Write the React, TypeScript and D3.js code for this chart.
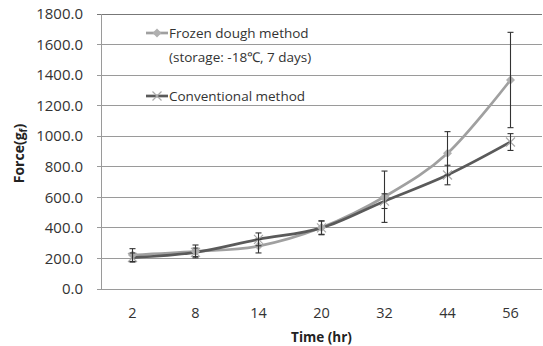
import React, { useEffect, useRef } from 'react'
import * as d3 from 'd3'

// data
const times = ['2', '8', '14', '20', '32', '44', '56']
const frozen = [222, 246, 281, 402, 604, 888, 1368]
const frozenErr = [42, 42, 45, 44, 168, 142, 312]
const conventional = [206, 240, 325, 400, 575, 746, 962]
const conventionalErr = [30, 28, 42, 45, 48, 64, 55]
const yTicks = [0, 200, 400, 600, 800, 1000, 1200, 1400, 1600, 1800]

const FONT = '"Open Sans", "Liberation Sans", sans-serif'

export default function App() {
    const ref = useRef<SVGSVGElement>(null)

    useEffect(() => {
        const svg = d3.select(ref.current)
        svg.selectAll('*').remove()

        const margin = { top: 14, right: 1, bottom: 57, left: 101 }
        const W = 543, H = 346
        const width = W - margin.left - margin.right
        const height = H - margin.top - margin.bottom

        const x = d3.scaleBand().domain(times).range([0, width])
        const y = d3.scaleLinear().domain([0, 1800]).range([height, 0])
        const cx = (i: number) => (x(times[i]) as number) + x.bandwidth() / 2

        const g = svg.append('g').attr('transform', `translate(${margin.left},${margin.top})`)

        // gridlines
        g.selectAll('.grid').data(yTicks).enter().append('line')
            .attr('x1', -4).attr('x2', width)
            .attr('y1', d => y(d)).attr('y2', d => y(d))
            .attr('stroke', d => d === 1800 ? '#777' : '#9a9a9a')
            .attr('stroke-width', 1)
            .attr('shape-rendering', 'crispEdges')

        // left axis line
        g.append('line')
            .attr('x1', 0).attr('x2', 0).attr('y1', 0).attr('y2', height)
            .attr('stroke', '#9a9a9a').attr('shape-rendering', 'crispEdges')

        // y tick labels
        g.selectAll('.ylab').data(yTicks).enter().append('text')
            .attr('x', -18).attr('y', d => y(d)).attr('dy', '0.35em')
            .attr('text-anchor', 'end')
            .style('font-family', FONT).style('font-size', '15px').attr('fill', '#333')
            .text(d => d.toFixed(1))

        // x tick labels
        g.selectAll('.xlab').data(times).enter().append('text')
            .attr('x', (d, i) => cx(i)).attr('y', height + 29)
            .attr('text-anchor', 'middle')
            .style('font-family', FONT).style('font-size', '14.5px').attr('fill', '#333')
            .text(d => d)

        // axis titles
        g.append('text')
            .attr('x', width / 2).attr('y', height + 53)
            .attr('text-anchor', 'middle')
            .style('font-family', FONT).style('font-size', '13.5px').style('font-weight', 'bold')
            .attr('fill', '#222')
            .text('Time (hr)')

        const yt = g.append('text')
            .attr('transform', `translate(${-77},${height / 2 + 2}) rotate(-90)`)
            .attr('text-anchor', 'middle')
            .style('font-family', FONT).style('font-size', '14px').style('font-weight', 'bold')
            .attr('fill', '#222')
        yt.append('tspan').text('Force(g')
        yt.append('tspan').attr('dy', 3).style('font-size', '10px').text('f')
        yt.append('tspan').attr('dy', -3).text(')')

        const line = d3.line<number>()
            .x((d, i) => cx(i))
            .y(d => y(d))
            .curve(d3.curveCatmullRom.alpha(0))

        const series = [
            { vals: frozen, err: frozenErr, color: '#a0a0a0', mark: '#b0b0b0', type: 'diamond' },
            { vals: conventional, err: conventionalErr, color: '#5a5a5a', mark: '#aaaaaa', type: 'x' }
        ]

        // lines
        series.forEach(s => {
            g.append('path').datum(s.vals)
                .attr('fill', 'none').attr('stroke', s.color).attr('stroke-width', 2.7)
                .attr('d', line)
        })

        // markers
        const drawMarker = (sel: any, type: string, px: number, py: number, color: string) => {
            if (type === 'diamond') {
                sel.append('path')
                    .attr('d', `M${px},${py - 4.5}L${px + 4.5},${py}L${px},${py + 4.5}L${px - 4.5},${py}Z`)
                    .attr('fill', color)
            } else {
                sel.append('path')
                    .attr('d', `M${px - 4.5},${py - 4.5}L${px + 4.5},${py + 4.5}M${px - 4.5},${py + 4.5}L${px + 4.5},${py - 4.5}`)
                    .attr('stroke', color).attr('stroke-width', 1.2).attr('fill', 'none')
            }
        }
        series.forEach(s => {
            s.vals.forEach((v, i) => drawMarker(g, s.type, cx(i), y(v), s.mark))
        })

        // error bars
        series.forEach(s => {
            s.vals.forEach((v, i) => {
                const px = cx(i)
                const e = s.err[i]
                const eb = g.append('g').attr('stroke', '#333').attr('stroke-width', 1.1)
                eb.append('line').attr('x1', px).attr('x2', px).attr('y1', y(v + e)).attr('y2', y(v - e))
                eb.append('line').attr('x1', px - 3).attr('x2', px + 3).attr('y1', y(v + e)).attr('y2', y(v + e))
                eb.append('line').attr('x1', px - 3).attr('x2', px + 3).attr('y1', y(v - e)).attr('y2', y(v - e))
            })
        })

        // legend
        const leg = svg.append('g')
        const legItems = [
            { s: series[0], ly: 33, lines: ['Frozen dough method', '(storage: -18\u2103, 7 days)'] },
            { s: series[1], ly: 96, lines: ['Conventional method'] }
        ]
        legItems.forEach(item => {
            leg.append('line').attr('x1', 146).attr('x2', 168).attr('y1', item.ly).attr('y2', item.ly)
                .attr('stroke', item.s.color).attr('stroke-width', 2.7)
            drawMarker(leg, item.s.type, 157, item.ly, item.s.mark)
            item.lines.forEach((t, k) => {
                leg.append('text')
                    .attr('x', 169).attr('y', item.ly + k * 24).attr('dy', '0.35em')
                    .style('font-family', FONT).style('font-size', '13.5px').attr('fill', '#333')
                    .text(t)
            })
        })
    }, [])

    return (
        <svg ref={ref} width={543} height={346}
            style={{ position: 'absolute', left: 0, top: 0, background: '#fff' }} />
    )
}
